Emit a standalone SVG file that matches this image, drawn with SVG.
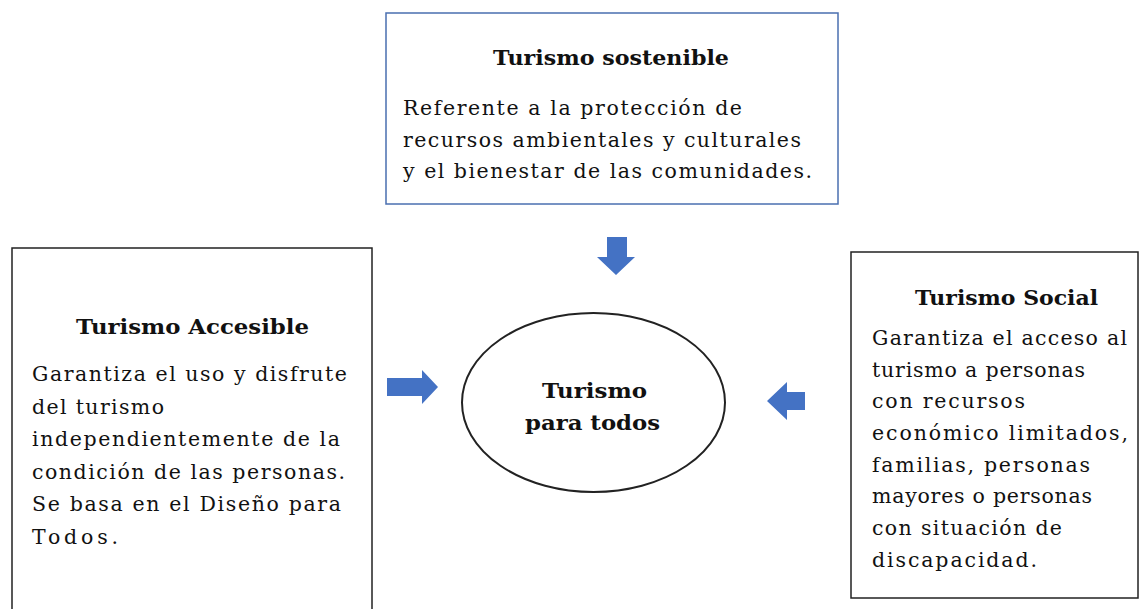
<svg xmlns="http://www.w3.org/2000/svg" width="1144" height="609" viewBox="0 0 1144 609">
<style>
.box{fill:#fff;stroke:#222;stroke-width:1.5}
.blue{stroke:#4a6fb0}
.t{font-family:"DejaVu Serif","Liberation Serif",serif;font-size:20.5px;fill:#111}
.b{font-weight:bold}
.arr{fill:#4472C4}
</style>
<rect width="1144" height="609" fill="#fff"/>
<g id="node-sostenible">
<rect class="box blue" x="386" y="13" width="452" height="191"/>
<text class="t b" x="493" y="65" textLength="236" lengthAdjust="spacingAndGlyphs">Turismo sostenible</text>
<text class="t" x="403" y="115" textLength="339" lengthAdjust="spacing">Referente a la protección de</text>
<text class="t" x="403" y="147" textLength="398" lengthAdjust="spacing">recursos ambientales y culturales</text>
<text class="t" x="403" y="178" textLength="409" lengthAdjust="spacing">y el bienestar de las comunidades.</text>
</g>
<g id="node-accesible">
<rect class="box" x="12" y="248" width="360" height="370"/>
<text class="t b" x="76" y="334" textLength="233" lengthAdjust="spacingAndGlyphs">Turismo Accesible</text>
<text class="t" x="32" y="381" textLength="315" lengthAdjust="spacing">Garantiza el uso y disfrute</text>
<text class="t" x="32" y="414" textLength="132" lengthAdjust="spacing">del turismo</text>
<text class="t" x="32" y="446" textLength="308" lengthAdjust="spacing">independientemente de la</text>
<text class="t" x="32" y="479" textLength="313" lengthAdjust="spacing">condición de las personas.</text>
<text class="t" x="32" y="511" textLength="309" lengthAdjust="spacing">Se basa en el Diseño para</text>
<text class="t" x="32" y="544" textLength="86" lengthAdjust="spacing">Todos.</text>
</g>
<g id="node-social">
<rect class="box" x="851" y="252" width="287" height="346"/>
<text class="t b" x="915" y="305" textLength="183" lengthAdjust="spacingAndGlyphs">Turismo Social</text>
<text class="t" x="872" y="345" textLength="255" lengthAdjust="spacing">Garantiza el acceso al</text>
<text class="t" x="872" y="377" textLength="213" lengthAdjust="spacing">turismo a personas</text>
<text class="t" x="872" y="408" textLength="153" lengthAdjust="spacing">con recursos</text>
<text class="t" x="872" y="440" textLength="256" lengthAdjust="spacing">económico limitados,</text>
<text class="t" x="872" y="472" textLength="218" lengthAdjust="spacing">familias, personas</text>
<text class="t" x="872" y="503" textLength="220" lengthAdjust="spacing">mayores o personas</text>
<text class="t" x="872" y="535" textLength="190" lengthAdjust="spacing">con situación de</text>
<text class="t" x="872" y="567" textLength="165" lengthAdjust="spacing">discapacidad.</text>
</g>
<g id="node-center">
<ellipse cx="593.5" cy="402.5" rx="131.5" ry="89.5" fill="#fff" stroke="#222" stroke-width="2"/>
<text class="t b" x="542" y="398" textLength="105" lengthAdjust="spacingAndGlyphs">Turismo</text>
<text class="t b" x="525" y="430" textLength="135" lengthAdjust="spacingAndGlyphs">para todos</text>
</g>
<g id="connectors">
<path class="arr" d="M607 237 H627 V257 H635 L616 275 L597 257 H607 Z"/>
<path class="arr" d="M387 378 H422 V370 L438 387 L422 404 V396 H387 Z"/>
<path class="arr" d="M805 392 H787 V382 L767 401 L787 420 V410 H805 Z"/>
</g>
</svg>
